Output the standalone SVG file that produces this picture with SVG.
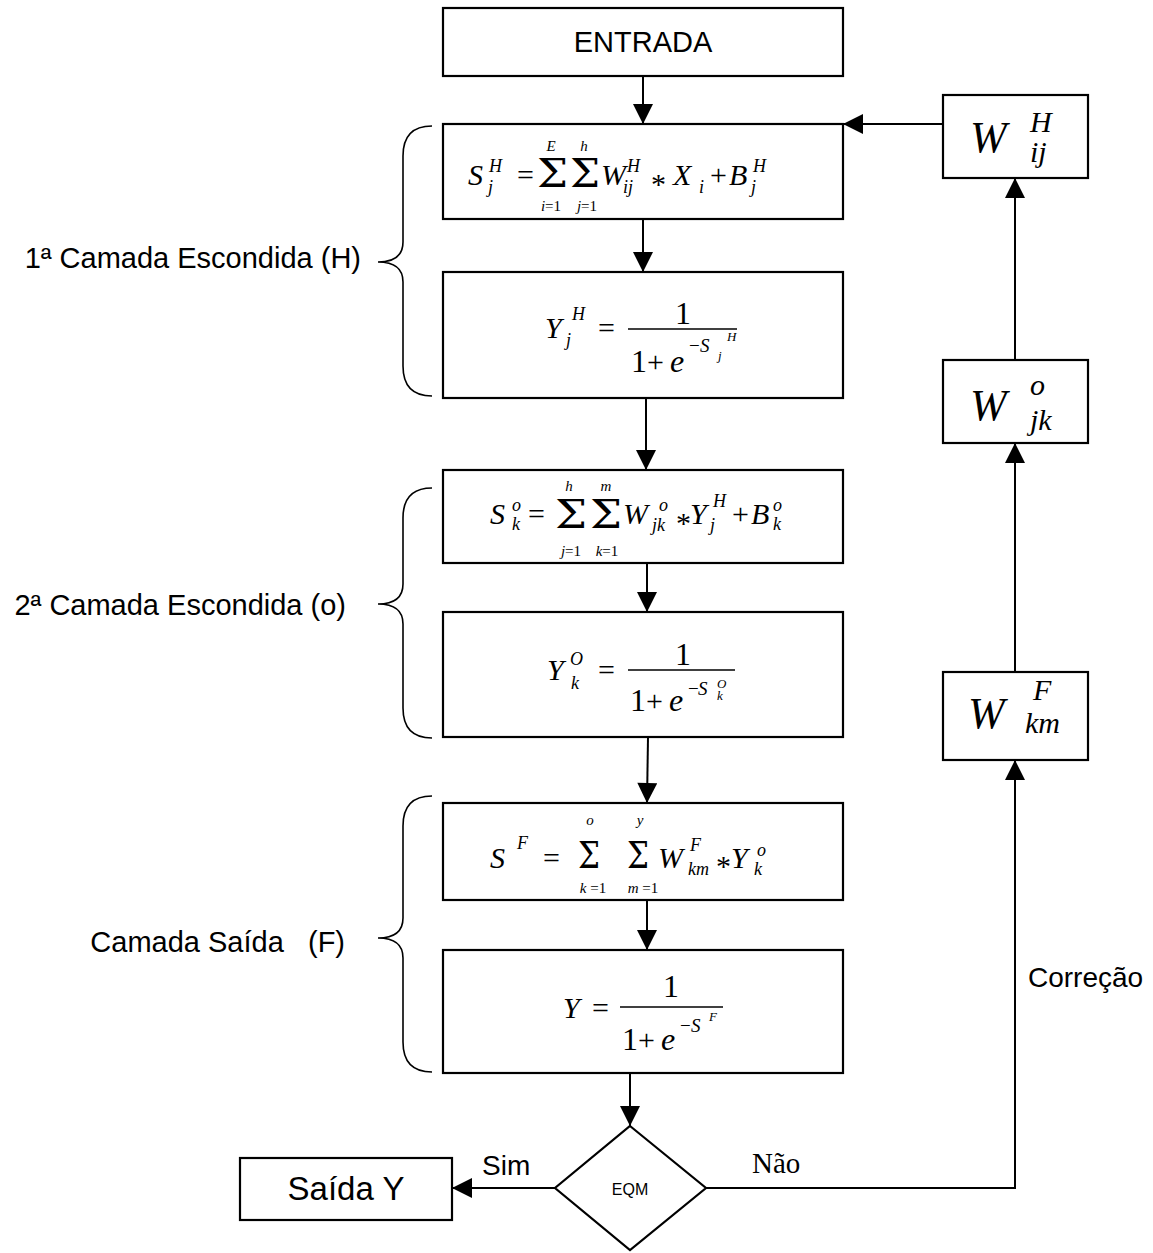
<svg xmlns="http://www.w3.org/2000/svg" width="1153" height="1253" viewBox="0 0 1153 1253">
<defs>
<style>
.box{fill:#fff;stroke:#000;stroke-width:2.2}
.ln{fill:none;stroke:#000;stroke-width:2}
.br{fill:none;stroke:#000;stroke-width:1.6}
.lab{font-family:"Liberation Sans",Arial,sans-serif;font-size:28px;fill:#000}
.big{font-size:29px}
.m{font-family:"Liberation Serif","Times New Roman",serif;font-style:italic;font-size:30px;fill:#000}
.n{font-family:"Liberation Serif","Times New Roman",serif;font-size:30px;fill:#000}
.s{font-family:"Liberation Serif","Times New Roman",serif;font-style:italic;font-size:18px;fill:#000}
.l{font-family:"Liberation Serif","Times New Roman",serif;font-style:italic;font-size:15px;fill:#000}
.ln15{font-family:"Liberation Serif","Times New Roman",serif;font-style:normal;font-size:15px;fill:#000}
.sig{font-family:"DejaVu Serif","Liberation Serif",serif;font-size:40px;fill:#000}
.e{font-family:"Liberation Serif","Times New Roman",serif;font-style:italic;font-size:19px;fill:#000}
.ee{font-family:"Liberation Serif","Times New Roman",serif;font-style:italic;font-size:13px;fill:#000}
.w{font-family:"Liberation Serif","Times New Roman",serif;font-style:italic;font-size:44px;fill:#000}
.ws{font-family:"Liberation Serif","Times New Roman",serif;font-style:italic;font-size:30px;fill:#000}
</style>
<marker id="ah" viewBox="0 0 10 10" refX="10" refY="5" markerUnits="userSpaceOnUse" markerWidth="22" markerHeight="20" orient="auto">
<path d="M0,0 L10,5 L0,10 z" fill="#000"/>
</marker>
</defs>
<rect width="1153" height="1253" fill="#fff"/>

<g id="connectors">
<line class="ln" x1="643" y1="76" x2="643" y2="124" marker-end="url(#ah)"/>
<line class="ln" x1="643" y1="219" x2="643" y2="272" marker-end="url(#ah)"/>
<line class="ln" x1="646" y1="398" x2="646" y2="470" marker-end="url(#ah)"/>
<line class="ln" x1="647" y1="563" x2="647" y2="612" marker-end="url(#ah)"/>
<line class="ln" x1="648" y1="737" x2="647" y2="803" marker-end="url(#ah)"/>
<line class="ln" x1="647" y1="900" x2="647" y2="950" marker-end="url(#ah)"/>
<line class="ln" x1="630" y1="1073" x2="630" y2="1126" marker-end="url(#ah)"/>
<line class="ln" x1="555" y1="1188" x2="452" y2="1188" marker-end="url(#ah)"/>
<polyline class="ln" points="706,1188 1015,1188 1015,760" marker-end="url(#ah)"/>
<line class="ln" x1="1015" y1="672" x2="1015" y2="443" marker-end="url(#ah)"/>
<line class="ln" x1="1015" y1="360" x2="1015" y2="178" marker-end="url(#ah)"/>
<line class="ln" x1="943" y1="124" x2="843" y2="124" marker-end="url(#ah)"/>
<text class="lab" x="482" y="1175">Sim</text>
<text class="n" x="752" y="1173" style="font-size:29px">Não</text>
<text class="lab" x="1028" y="987">Correção</text>
</g>

<g id="braces">
<path class="br" d="M432,126 Q403,126 403,156 L403,242 Q403,262 378,262 Q403,262 403,282 L403,366 Q403,396 432,396"/>
<path class="br" d="M432,488 Q403,488 403,518 L403,584 Q403,604 378,604 Q403,604 403,624 L403,708 Q403,738 432,738"/>
<path class="br" d="M432,796 Q403,796 403,826 L403,918 Q403,938 378,938 Q403,938 403,958 L403,1042 Q403,1072 432,1072"/>
<text class="lab big" x="361" y="268" text-anchor="end">1ª Camada Escondida (H)</text>
<text class="lab big" x="346" y="615" text-anchor="end">2ª Camada Escondida (o)</text>
<text class="lab big" x="345" y="952" text-anchor="end" xml:space="preserve">Camada Saída   (F)</text>
</g>

<g id="entrada">
<rect class="box" x="443" y="8" width="400" height="68"/>
<text class="lab big" x="643" y="52" text-anchor="middle">ENTRADA</text>
</g>

<g id="s_h">
<rect class="box" x="443" y="124" width="400" height="95"/>
<text class="m" x="468" y="185">S</text>
<text class="s" x="489" y="172">H</text>
<text class="s" x="488" y="193">j</text>
<text class="n" x="517" y="185">=</text>
<text class="sig" x="537" y="187" textLength="31" lengthAdjust="spacingAndGlyphs" style="font-size:39px">Σ</text>
<text class="l" x="551" y="151" text-anchor="middle">E</text>
<text class="l" x="551" y="211" text-anchor="middle">i<tspan class="ln15">=1</tspan></text>
<text class="sig" x="570" y="187" textLength="30" lengthAdjust="spacingAndGlyphs" style="font-size:39px">Σ</text>
<text class="l" x="584" y="151" text-anchor="middle">h</text>
<text class="l" x="587" y="211" text-anchor="middle">j<tspan class="ln15">=1</tspan></text>
<text class="m" x="601" y="185">W</text>
<text class="s" x="627" y="172">H</text>
<text class="s" x="623" y="193">ij</text>
<text class="n" x="651" y="194">*</text>
<text class="m" x="673" y="185">X</text>
<text class="s" x="699" y="193">i</text>
<text class="n" x="710" y="185">+</text>
<text class="m" x="729" y="185">B</text>
<text class="s" x="753" y="172">H</text>
<text class="s" x="751" y="193">j</text>
</g>

<g id="y_h">
<rect class="box" x="443" y="272" width="400" height="126"/>
<text class="m" x="545" y="338">Y</text>
<text class="s" x="572" y="320">H</text>
<text class="s" x="566" y="346">j</text>
<text class="n" x="598" y="338">=</text>
<text class="n" x="683" y="324" text-anchor="middle" style="font-size:32px">1</text>
<line x1="628" y1="329" x2="737" y2="329" stroke="#000" stroke-width="1.5"/>
<text class="n" x="631" y="372" style="font-size:32px">1</text>
<text class="n" x="647" y="372">+</text>
<text class="m" x="670" y="372" style="font-size:32px">e</text>
<text class="n" x="689" y="352" style="font-size:19px">−</text>
<text class="e" x="700" y="352">S</text>
<text class="ee" x="727" y="341">H</text>
<text class="ee" x="718" y="360">j</text>
</g>

<g id="s_o">
<rect class="box" x="443" y="470" width="400" height="93"/>
<text class="m" x="490" y="524">S</text>
<text class="s" x="512" y="511">o</text>
<text class="s" x="512" y="530">k</text>
<text class="n" x="528" y="524">=</text>
<text class="sig" x="555" y="528" textLength="32" lengthAdjust="spacingAndGlyphs" style="font-size:39px">Σ</text>
<text class="l" x="569" y="491" text-anchor="middle">h</text>
<text class="l" x="571" y="556" text-anchor="middle">j<tspan class="ln15">=1</tspan></text>
<text class="sig" x="590" y="528" textLength="32" lengthAdjust="spacingAndGlyphs" style="font-size:39px">Σ</text>
<text class="l" x="606" y="491" text-anchor="middle">m</text>
<text class="l" x="607" y="556" text-anchor="middle">k<tspan class="ln15">=1</tspan></text>
<text class="m" x="623" y="524">W</text>
<text class="s" x="659" y="511">o</text>
<text class="s" x="652" y="531">jk</text>
<text class="n" x="676" y="533">*</text>
<text class="m" x="690" y="524">Y</text>
<text class="s" x="713" y="507">H</text>
<text class="s" x="710" y="531">j</text>
<text class="n" x="732" y="524">+</text>
<text class="m" x="751" y="524">B</text>
<text class="s" x="773" y="511">o</text>
<text class="s" x="773" y="530">k</text>
</g>

<g id="y_o">
<rect class="box" x="443" y="612" width="400" height="125"/>
<text class="m" x="547" y="680">Y</text>
<text class="s" x="570" y="665">O</text>
<text class="s" x="571" y="689">k</text>
<text class="n" x="598" y="680">=</text>
<text class="n" x="683" y="665" text-anchor="middle" style="font-size:32px">1</text>
<line x1="628" y1="670" x2="735" y2="670" stroke="#000" stroke-width="1.5"/>
<text class="n" x="630" y="711" style="font-size:32px">1</text>
<text class="n" x="646" y="711">+</text>
<text class="m" x="669" y="711" style="font-size:32px">e</text>
<text class="n" x="688" y="695" style="font-size:19px">−</text>
<text class="e" x="698" y="695">S</text>
<text class="ee" x="717" y="688">O</text>
<text class="ee" x="717" y="700">k</text>
</g>

<g id="s_f">
<rect class="box" x="443" y="803" width="400" height="97"/>
<text class="m" x="490" y="868">S</text>
<text class="s" x="517" y="849">F</text>
<text class="n" x="543" y="868">=</text>
<text class="sig" x="578" y="868" textLength="22" lengthAdjust="spacingAndGlyphs" style="font-size:38px">Σ</text>
<text class="l" x="590" y="825" text-anchor="middle">o</text>
<text class="l" x="593" y="893" text-anchor="middle">k <tspan class="ln15">=1</tspan></text>
<text class="sig" x="627" y="868" textLength="22" lengthAdjust="spacingAndGlyphs" style="font-size:38px">Σ</text>
<text class="l" x="640" y="825" text-anchor="middle">y</text>
<text class="l" x="643" y="893" text-anchor="middle">m <tspan class="ln15">=1</tspan></text>
<text class="m" x="658" y="868">W</text>
<text class="s" x="690" y="851">F</text>
<text class="s" x="688" y="875">km</text>
<text class="n" x="716" y="876">*</text>
<text class="m" x="731" y="868">Y</text>
<text class="s" x="757" y="856">o</text>
<text class="s" x="754" y="875">k</text>
</g>

<g id="y_f">
<rect class="box" x="443" y="950" width="400" height="123"/>
<text class="m" x="563" y="1018">Y</text>
<text class="n" x="592" y="1018">=</text>
<text class="n" x="671" y="997" text-anchor="middle" style="font-size:32px">1</text>
<line x1="620" y1="1007" x2="723" y2="1007" stroke="#000" stroke-width="1.5"/>
<text class="n" x="622" y="1050" style="font-size:32px">1</text>
<text class="n" x="638" y="1050">+</text>
<text class="m" x="661" y="1050" style="font-size:32px">e</text>
<text class="n" x="680" y="1032" style="font-size:19px">−</text>
<text class="e" x="691" y="1032">S</text>
<text class="ee" x="709" y="1021">F</text>
</g>

<g id="eqm">
<polygon class="box" points="630,1126 706,1188 630,1250 555,1188"/>
<text class="lab" x="630" y="1195" text-anchor="middle" style="font-size:16px">EQM</text>
</g>

<g id="saida">
<rect class="box" x="240" y="1158" width="212" height="62"/>
<text class="lab" x="346" y="1200" text-anchor="middle" style="font-size:33px">Saída Y</text>
</g>

<g id="w_ij">
<rect class="box" x="943" y="95" width="145" height="83"/>
<text class="w" x="970" y="152">W</text>
<text class="ws" x="1030" y="132">H</text>
<text class="ws" x="1030" y="162">ij</text>
</g>

<g id="w_jk">
<rect class="box" x="943" y="360" width="145" height="83"/>
<text class="w" x="970" y="420">W</text>
<text class="ws" x="1030" y="395">o</text>
<text class="ws" x="1030" y="430">jk</text>
</g>

<g id="w_km">
<rect class="box" x="943" y="672" width="145" height="88"/>
<text class="w" x="968" y="728">W</text>
<text class="ws" x="1033" y="700">F</text>
<text class="ws" x="1025" y="733">km</text>
</g>
</svg>
